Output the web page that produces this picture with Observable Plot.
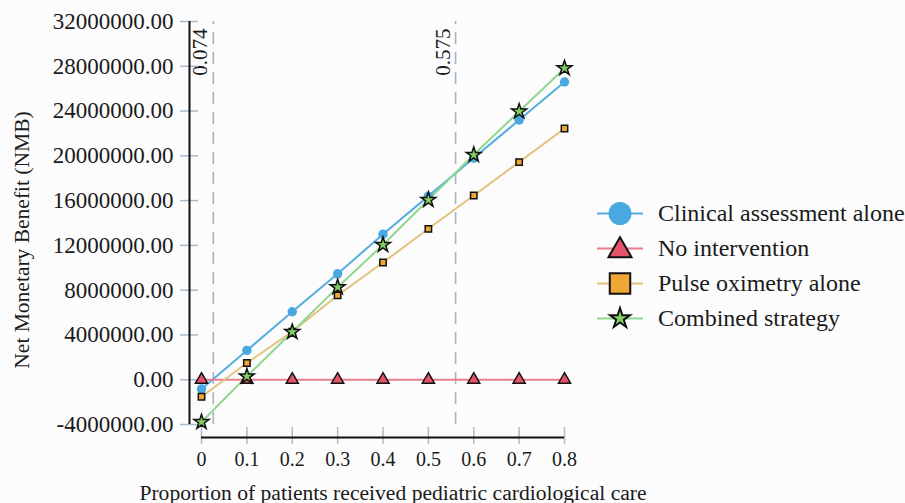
<!DOCTYPE html>
<html>
<head>
<meta charset="utf-8">
<script src="https://cdn.jsdelivr.net/npm/d3@7"></script>
<script src="https://cdn.jsdelivr.net/npm/@observablehq/plot@0.6"></script>
<style>
  html, body { margin: 0; padding: 0; background: #fcfcfd; overflow: hidden; }
  #wrap { position: relative; width: 905px; height: 503px; font-family: "Liberation Serif", "Times New Roman", serif; color: #1a1a1a; }
  #legend { position: absolute; left: 597px; top: 196px; }
  .row { display: flex; align-items: center; height: 35px; white-space: nowrap; }
  .row span { font-size: 24px; margin-left: 15px; }
</style>
</head>
<body>
<div id="wrap"><div id="legend"></div></div>
<script>
// ---- data ----
const proportions = [0, 0.1, 0.2, 0.3, 0.4, 0.5, 0.6, 0.7, 0.8];
const seriesNames = ["Clinical assessment alone", "No intervention", "Pulse oximetry alone", "Combined strategy"];
const clinical = [-830000, 2620000, 6070000, 9460000, 13000000, 16400000, 19800000, 23200000, 26600000];
const noIntervention = [0, 0, 0, 0, 0, 0, 0, 0, 0];
const pulseOximetry = [-1520000, 1490000, 4300000, 7530000, 10470000, 13480000, 16460000, 19440000, 22440000];
const combined = [-3780000, 300000, 4260000, 8270000, 12050000, 16070000, 20090000, 23960000, 27830000];
const yTicks = [-4000000, 0, 4000000, 8000000, 12000000, 16000000, 20000000, 24000000, 28000000, 32000000];
const xTicks = [0, 0.1, 0.2, 0.3, 0.4, 0.5, 0.6, 0.7, 0.8];
const xTickLabels = ["0", "0.1", "0.2", "0.3", "0.4", "0.5", "0.6", "0.7", "0.8"];
const thresholdX = [0.026, 0.56];
const thresholdLabels = ["0.074", "0.575"];
const xTitle = "Proportion of patients received pediatric cardiological care";
const yTitle = "Net Monetary Benefit (NMB)";

// ---- styles ----
const lineColors = ["#55ade0", "#e87d8e", "#e2c27c", "#8fd68e"];
const markerFills = ["#4aa8e0", "#e5546b", "#efa634", "#80cf60"];
const symbols = ["circle", "triangle", "square", "star"];
const markerR = [4.7, 4.5, 3.6, 4.7];
const markerStroke = ["none", "#111", "#111", "#111"];

const values = [clinical, noIntervention, pulseOximetry, combined];
const rows = [];
seriesNames.forEach((s, k) => proportions.forEach((p, i) => rows.push({s, k, p, v: values[k][i]})));

const thresholds = thresholdX.map((x, i) => ({x, label: thresholdLabels[i]}));

const chart = Plot.plot({
  width: 905,
  height: 503,
  marginLeft: 201,
  marginRight: 341,
  marginTop: 21,
  marginBottom: 79,
  style: {background: "transparent", fontFamily: "Liberation Serif, Times New Roman, serif", color: "#1a1a1a", overflow: "visible"},
  x: {domain: [0, 0.8]},
  y: {domain: [-4000000, 32000000]},
  marks: [
    // threshold dashed lines
    Plot.ruleX(thresholds, {x: "x", y1: -4000000, y2: 32000000, stroke: "#a9b3bd", strokeWidth: 1.6, strokeDasharray: "12,8"}),
    Plot.text(thresholds, {x: "x", frameAnchor: "top", text: "label", rotate: -90, textAnchor: "end", lineAnchor: "bottom", dx: -6, dy: 7, fontSize: 21, fill: "#1a1a1a"}),
    // axes
    Plot.axisY({ticks: yTicks, tickFormat: d => d.toFixed(2), tickSize: 18, dx: -3, tickPadding: 7, fontSize: 23, stroke: "#a8bccb", strokeWidth: 1.5, fill: "#1a1a1a", label: null}),
    Plot.axisX({ticks: xTicks, tickFormat: (d, i) => xTickLabels[i], tickSize: 17, dy: 3, tickPadding: 7, fontSize: 20, stroke: "#a8bccb", strokeWidth: 1.5, fill: "#1a1a1a", label: null}),
    Plot.ruleX([0], {y1: -4000000, y2: 32000000, dx: -12, stroke: "#111", strokeWidth: 2}),
    Plot.ruleY([-4000000], {x1: 0, x2: 0.8, dy: 13, stroke: "#111", strokeWidth: 2}),
    // lines
    ...seriesNames.map((s, k) => Plot.line(rows.filter(d => d.k === k), {x: "p", y: "v", stroke: lineColors[k], strokeWidth: 2})),
    // markers
    ...seriesNames.map((s, k) => Plot.dot(rows.filter(d => d.k === k), {x: "p", y: "v", symbol: symbols[k], r: markerR[k], fill: markerFills[k], stroke: markerStroke[k], strokeWidth: 1.5})),
    // titles
    Plot.text([xTitle], {frameAnchor: "bottom", textAnchor: "middle", dx: 10, dy: 75, fontSize: 21.6, fill: "#1a1a1a"}),
    Plot.text([yTitle], {frameAnchor: "left", textAnchor: "middle", rotate: -90, dx: -179, dy: 17, fontSize: 21.5, fill: "#1a1a1a"})
  ]
});

const wrap = document.getElementById("wrap");
wrap.insertBefore(chart, wrap.firstChild);

// ---- legend ----
const legendSizes = [415, 229, 420, 124];
const symbolTypes = [d3.symbolCircle, d3.symbolTriangle, d3.symbolSquare, d3.symbolStar];
const legend = document.getElementById("legend");
seriesNames.forEach((name, k) => {
  const path = d3.symbol(symbolTypes[k], legendSizes[k])();
  const yOff = k === 1 ? 19.5 : 17.5;
  const row = document.createElement("div");
  row.className = "row";
  row.innerHTML = `<svg width="46" height="35" style="overflow:visible">
    <line x1="0" x2="46" y1="17.5" y2="17.5" stroke="${lineColors[k]}" stroke-width="2"/>
    <path d="${path}" transform="translate(23,${yOff})" fill="${markerFills[k]}" stroke="${k === 0 ? "none" : "#111"}" stroke-width="2"/>
  </svg><span>${name}</span>`;
  legend.appendChild(row);
});
</script>
</body>
</html>
